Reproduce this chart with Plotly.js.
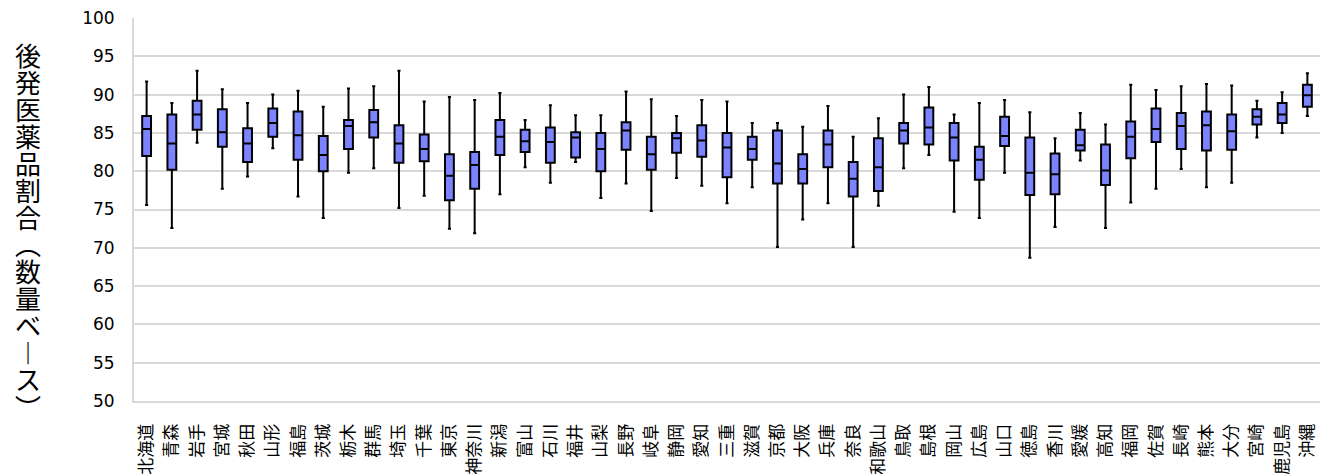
<!DOCTYPE html>
<html><head><meta charset="utf-8">
<script src="https://cdn.plot.ly/plotly-3.0.1.min.js"></script>
<style>html,body{margin:0;padding:0;background:#fff}#chart{width:1320px;height:474px}</style>
</head><body><div id="chart"></div>
<script>
const prefectures = ['北海道','青森','岩手','宮城','秋田','山形','福島','茨城','栃木','群馬','埼玉','千葉','東京','神奈川','新潟','富山','石川','福井','山梨','長野','岐阜','静岡','愛知','三重','滋賀','京都','大阪','兵庫','奈良','和歌山','鳥取','島根','岡山','広島','山口','徳島','香川','愛媛','高知','福岡','佐賀','長崎','熊本','大分','宮崎','鹿児島','沖縄'];
const upperWhisker = [91.7,88.9,93.1,90.7,88.9,90.0,90.5,88.4,90.8,91.1,93.1,89.1,89.7,89.3,90.2,86.7,88.6,87.3,87.3,90.4,89.4,87.2,89.3,89.1,86.3,86.3,85.8,88.5,84.5,86.9,90.0,91.0,87.4,88.9,89.3,87.7,84.3,87.6,86.1,91.3,90.6,91.1,91.4,91.2,89.2,90.3,92.8];
const q3 = [87.2,87.4,89.2,88.1,85.6,88.2,87.8,84.6,86.7,88.0,86.0,84.8,82.2,82.5,86.7,85.4,85.7,85.1,85.0,86.4,84.5,85.0,86.0,85.0,84.5,85.3,82.2,85.3,81.2,84.3,86.3,88.3,86.3,83.2,87.1,84.4,82.3,85.4,83.5,86.5,88.2,87.6,87.8,87.4,88.1,88.9,91.3];
const median = [85.5,83.6,87.4,85.1,83.6,86.3,84.7,82.1,85.9,86.4,83.6,82.9,79.4,80.8,84.5,83.9,83.8,84.4,82.9,85.3,82.2,84.3,84.0,83.1,82.9,81.0,80.3,83.5,79.0,80.5,85.3,85.7,84.4,81.5,84.6,79.8,79.6,83.4,80.1,84.5,85.5,85.9,86.0,85.2,87.1,87.4,89.9];
const q1 = [82.0,80.2,85.4,83.2,81.2,84.5,81.5,80.0,82.9,84.4,81.1,81.3,76.2,77.7,82.1,82.5,81.1,81.8,80.0,82.8,80.2,82.4,81.9,79.2,81.5,78.4,78.4,80.5,76.7,77.4,83.6,83.5,81.4,78.9,83.3,76.9,77.0,82.7,78.2,81.7,83.8,82.9,82.7,82.8,86.1,86.3,88.4];
const lowerWhisker = [75.6,72.6,83.7,77.7,79.3,83.0,76.7,73.9,79.8,80.4,75.2,76.8,72.5,71.9,77.0,80.5,78.5,81.2,76.5,78.4,74.8,79.1,78.1,75.8,77.9,70.1,73.7,75.8,70.1,75.5,80.4,82.1,74.7,73.9,79.8,68.7,72.7,81.4,72.6,75.9,77.7,80.3,77.9,78.5,84.4,85.0,87.2];
const yTicks = [50,55,60,65,70,75,80,85,90,95,100];
const yTitle = '後発医薬品割合（数量ベース）';

const verticalForms = {'（':'︵','）':'︶','ー':'︱'};
const yTitleVertical = Array.from(yTitle)
  .map(c => '<span style="font-size:26px">' + (verticalForms[c] || c) + '</span>')
  .join('<br>');

const cjk = '"Noto Sans CJK JP", "Noto Sans", sans-serif';
const trace = {
  type: 'box',
  x: prefectures,
  q1: q1, median: median, q3: q3,
  lowerfence: lowerWhisker, upperfence: upperWhisker,
  fillcolor: '#7B83FF',
  line: {color: '#000000', width: 2},
  whiskerwidth: 0.35,
  boxpoints: false,
  hoverinfo: 'skip',
  showlegend: false
};
const layout = {
  width: 1320, height: 474,
  margin: {l: 134, r: 0, t: 18, b: 73},
  paper_bgcolor: '#ffffff', plot_bgcolor: '#ffffff',
  boxgap: 0.5,
  font: {family: cjk, color: '#000000'},
  xaxis: {
    type: 'category', range: [-0.5, 46.5],
    tickangle: -90, ticks: '', showgrid: false,
    showline: true, linecolor: '#d9d9d9', linewidth: 2,
    tickfont: {family: cjk, size: 17, color: '#000000'},
    ticklabelstandoff: 14
  },
  yaxis: {
    range: [50, 100], tickvals: yTicks, ticktext: yTicks.map(String),
    showgrid: true, gridcolor: '#d9d9d9', gridwidth: 2,
    showline: true, linecolor: '#d9d9d9', linewidth: 2,
    zeroline: false, ticks: '',
    tickfont: {family: '"DejaVu Sans", Verdana, sans-serif', size: 17, color: '#000000'},
    ticklabelstandoff: 14
  },
  annotations: [{
    xref: 'paper', yref: 'paper', x: -0.0894, y: 0.445,
    xanchor: 'center', yanchor: 'middle', showarrow: false,
    text: yTitleVertical,
    font: {family: cjk, size: 20.8, color: '#000000'}
  }]
};
Plotly.newPlot('chart', [trace], layout, {staticPlot: true, displayModeBar: false});
</script>
</body></html>
